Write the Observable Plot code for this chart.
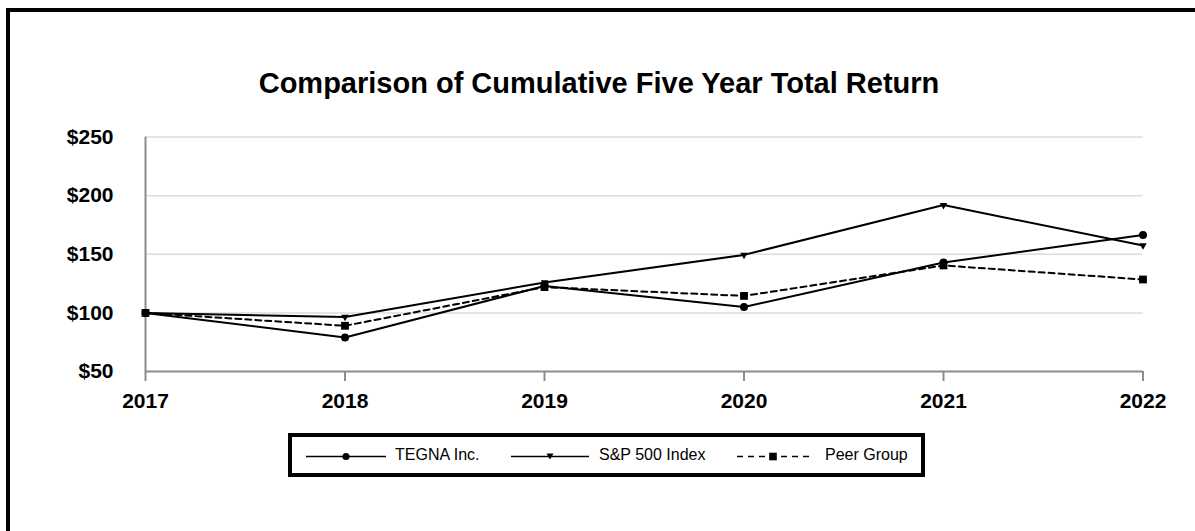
<!DOCTYPE html>
<html>
<head>
<meta charset="utf-8">
<script src="https://cdn.jsdelivr.net/npm/d3@7"></script>
<script src="https://cdn.jsdelivr.net/npm/@observablehq/plot@0.6"></script>
<style>
  html, body { margin: 0; padding: 0; background: #fff; overflow: hidden; }
  body { width: 1195px; height: 531px; position: relative; font-family: "Liberation Sans", Arial, sans-serif; }
  #frame { position: absolute; left: 6px; top: 8px; width: 1400px; height: 800px; border-left: 4px solid #000; border-top: 4px solid #000; box-sizing: border-box; }
  #title { position: absolute; left: 0; width: 1198px; top: 69px; text-align: center; font-size: 29px; line-height: 29px; font-weight: bold; color: #000; }
  #chart { position: absolute; left: 0; top: 0; }
  #legend { position: absolute; left: 288px; top: 433px; width: 637px; height: 44px; border: 4px solid #000; box-sizing: border-box; background: #fff; }
  .item { position: absolute; top: 0; height: 36px; }
  .item svg { position: absolute; top: 0; left: 0; }
  .item span { position: absolute; top: 9px; font-size: 16px; line-height: 18px; color: #000; white-space: nowrap; }
</style>
</head>
<body>
<div id="frame"></div>
<div id="title">Comparison of Cumulative Five Year Total Return</div>
<div id="chart"></div>
<div id="legend"></div>
<script>
const years = [2017, 2018, 2019, 2020, 2021, 2022];
const seriesNames = ["TEGNA Inc.", "S&P 500 Index", "Peer Group"];
const tegna = [100, 79, 123, 105, 143, 166.5];
const sp500 = [100, 96.5, 126, 149.5, 192, 157.5];
const peer  = [100, 89, 122, 114.5, 140.5, 128.5];
const yTicks = [50, 100, 150, 200, 250];

const rows = [];
[tegna, sp500, peer].forEach((vals, i) => {
  vals.forEach((v, j) => rows.push({series: seriesNames[i], year: years[j], value: v}));
});
const bySeries = name => rows.filter(r => r.series === name);

const gray = "#8c8c8c";
const plot = Plot.plot({
  width: 1195,
  height: 420,
  marginLeft: 145,
  marginRight: 52.5,
  marginTop: 136.6,
  marginBottom: 49,
  style: { fontFamily: "'Liberation Sans', Arial, sans-serif", background: "transparent", overflow: "visible" },
  x: { domain: [years[0], years[years.length - 1]], label: null },
  y: { domain: [yTicks[0], yTicks[yTicks.length - 1]], label: null },
  marks: [
    Plot.gridY(yTicks.slice(1), { stroke: "#dcdcdc", strokeOpacity: 1, strokeWidth: 1.5 }),
    Plot.ruleY([yTicks[0]], { stroke: gray, strokeWidth: 2 }),
    Plot.ruleX([years[0]], { stroke: gray, strokeWidth: 2 }),
    Plot.axisX(years, { tickSize: 10, tickPadding: 12, fontSize: 21, fontWeight: "bold", stroke: gray, strokeWidth: 2, fill: "#000", tickFormat: "d" }),
    Plot.axisY(yTicks, { tickSize: 0, tickPadding: 32, fontSize: 21, fontWeight: "bold", fill: "#000", tickFormat: d => "$" + d }),
    Plot.line(bySeries(seriesNames[0]), { x: "year", y: "value", stroke: "#000", strokeWidth: 2 }),
    Plot.line(bySeries(seriesNames[1]), { x: "year", y: "value", stroke: "#000", strokeWidth: 2 }),
    Plot.line(bySeries(seriesNames[2]), { x: "year", y: "value", stroke: "#000", strokeWidth: 2, strokeDasharray: "6,4" }),
    Plot.dot(bySeries(seriesNames[0]), { x: "year", y: "value", symbol: "circle", r: 4, fill: "#000", stroke: "none" }),
    Plot.dot(bySeries(seriesNames[1]), { x: "year", y: "value", symbol: "triangle", r: 2.8, rotate: 180, fill: "#000", stroke: "none" }),
    Plot.dot(bySeries(seriesNames[2]), { x: "year", y: "value", symbol: "square", r: 4.4, fill: "#000", stroke: "none" })
  ]
});
document.getElementById("chart").appendChild(plot);

// Legend
const legend = d3.select("#legend");
const items = [
  { name: seriesNames[0], left: 14, lineW: 80, marker: "circle", dash: null, textX: 89 },
  { name: seriesNames[1], left: 219, lineW: 78, marker: "triangle", dash: null, textX: 88 },
  { name: seriesNames[2], left: 445, lineW: 72, marker: "square", dash: "6,5", textX: 88 }
];
items.forEach(it => {
  const d = legend.append("div").attr("class", "item").style("left", it.left + "px").style("width", "200px");
  const svg = d.append("svg").attr("width", it.lineW + 4).attr("height", 36);
  const cy = 19.5;
  svg.append("line").attr("x1", 0).attr("x2", it.lineW).attr("y1", cy).attr("y2", cy)
    .attr("stroke", "#000").attr("stroke-width", 1.4).attr("stroke-dasharray", it.dash);
  const cx = it.lineW / 2;
  if (it.marker === "circle") svg.append("circle").attr("cx", cx).attr("cy", cy).attr("r", 3.6).attr("fill", "#000");
  if (it.marker === "triangle") svg.append("path").attr("d", `M${cx - 3.5},${cy - 3} L${cx + 3.5},${cy - 3} L${cx},${cy + 3} Z`).attr("fill", "#000");
  if (it.marker === "square") svg.append("rect").attr("x", cx - 3.8).attr("y", cy - 3.8).attr("width", 7.6).attr("height", 7.6).attr("fill", "#000");
  d.append("span").style("left", it.textX + "px").text(it.name);
});
</script>
</body>
</html>
